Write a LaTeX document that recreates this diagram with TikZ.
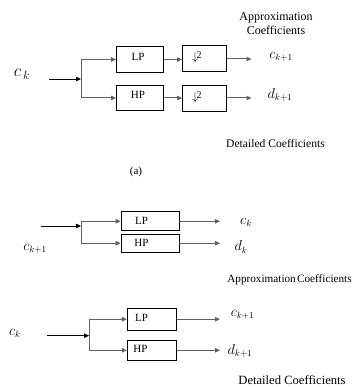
\documentclass[tikz,border=0pt]{standalone}
\usepackage{fontspec}
\setmainfont{Liberation Serif}
\usetikzlibrary{arrows.meta,calc}
\begin{document}
\begin{tikzpicture}[x=1pt,y=-1pt,
  blk/.style={draw=black, line width=0.9pt, minimum width=#1, inner sep=0pt, fill=white},
  blk/.default=47pt,
  lbl/.style={font=\fontsize{11}{13}\selectfont, inner sep=0pt},
  conn/.style={draw=black!62, line width=1pt, -{Triangle[length=5pt,width=4.5pt]}},
  link/.style={draw=black!62, line width=1pt},
  feed/.style={draw=black, line width=0.8pt, -{Triangle[length=5pt,width=4.5pt]}},
  sym/.style={inner sep=0pt, font=\fontsize{13.5}{15}\selectfont},
  captxt/.style={inner sep=0pt, align=center}
]
\useasboundingbox (0,0) rectangle (355,387);

% ---------- analysis stage with down-sampling ----------
\node[sym, font=\fontsize{17}{19}\selectfont] (x1) at (22,74) {$c_{\,k}$};
\coordinate (i1) at (49,79);
\coordinate (s1) at (81,79);
\node[blk, minimum height=26pt] (lp1) at (140,59.5) {};
\node[lbl] (lp1t) at (138,56.5) {LP};
\node[blk, minimum height=25pt] (hp1) at (140,98) {};
\node[lbl] (hp1t) at (138,95) {HP};
\node[blk=44pt, minimum height=25.5pt] (d1) at (204.5,58.5) {};
\node[blk=44pt, minimum height=25.5pt] (d2) at (204.5,98.3) {};
% down-sampling symbol: arrow with the factor 2 over it
\node[inner sep=0pt, font=\fontsize{12}{14}\selectfont] (d1a) at (195,57.5) {$\downarrow$};
\node[inner sep=0pt, font=\fontsize{10}{12}\selectfont] (d1b) at (199,55.5) {2};
\node[inner sep=0pt, font=\fontsize{12}{14}\selectfont] (d2a) at (195,97.3) {$\downarrow$};
\node[inner sep=0pt, font=\fontsize{10}{12}\selectfont] (d2b) at (199,95.3) {2};
\coordinate (o1) at (251.5,59);
\coordinate (o2) at (251.5,98);
\node[sym] (y1) at (281,57) {$c_{k+1}$};
\node[sym] (y2) at (280,94.5) {$d_{k+1}$};
\node[captxt, font=\fontsize{12}{14}\selectfont] (ac1) at (276,24) {Approximation\\Coefficients};
\node[captxt, font=\fontsize{11.6}{13}\selectfont] (dc1) at (275.5,143) {Detailed Coefficients};
\node[captxt, font=\fontsize{11}{12}\selectfont] (sa) at (136,172) {(a)};

\draw[feed] (i1) -- (s1);
\draw[link] (s1 |- lp1) -- (s1 |- hp1);
\draw[conn] (s1 |- lp1) -- (lp1.west);
\draw[conn] (s1 |- hp1) -- (hp1.west);
\draw[conn] (lp1.east) -- (lp1.east -| d1.west);
\draw[conn] (hp1.east) -- (hp1.east -| d2.west);
\draw[conn] (d1.east |- o1) -- (o1);
\draw[conn] (d2.east |- o2) -- (o2);

% ---------- synthesis-type split ----------
\node[sym] (x2) at (35,249) {$c_{k+1}$};
\coordinate (i2) at (41,226);
\coordinate (s2) at (81,226);
\node[blk=58pt, minimum height=19pt] (lp2) at (150,221.3) {};
\node[lbl] (lp2t) at (141.5,220.5) {LP};
\node[blk=58pt, minimum height=18.5pt] (hp2) at (150,243.2) {};
\node[lbl] (hp2t) at (141.5,242.5) {HP};
\coordinate (o3) at (220,221.3);
\coordinate (o4) at (220,243.2);
\node[sym] (y3) at (246,222) {$c_k$};
\node[sym] (y4) at (241,247) {$d_k$};
\node[captxt, font=\fontsize{11.2}{12}\selectfont] (ac2) at (289.5,280) {Approximation\kern-1.5pt\ Coefficients};

\draw[feed] (i2) -- (s2);
\draw[link] (s2 |- lp2) -- (s2 |- hp2);
\draw[conn] (s2 |- lp2) -- (lp2.west);
\draw[conn] (s2 |- hp2) -- (hp2.west);
\draw[conn] (lp2.east) -- (o3);
\draw[conn] (hp2.east) -- (o4);

% ---------- analysis stage without down-sampling ----------
\node[sym] (x3) at (15,333) {$c_k$};
\coordinate (i3) at (47,335.7);
\coordinate (s3) at (89,335.7);
\node[blk=49.4pt, minimum height=21.7pt] (lp3) at (152,319.2) {};
\node[lbl] (lp3t) at (141.5,318) {LP};
\node[blk=49.4pt, minimum height=20.7pt] (hp3) at (152,350.3) {};
\node[lbl] (hp3t) at (140.5,349) {HP};
\coordinate (o5) at (220,319.2);
\coordinate (o6) at (220,350.3);
\node[sym] (y5) at (242.5,315) {$c_{k+1}$};
\node[sym] (y6) at (240,351) {$d_{k+1}$};
\node[captxt, font=\fontsize{12.6}{14}\selectfont] (dc2) at (292,380.5) {Detailed Coefficients};

\draw[feed] (i3) -- (s3);
\draw[link] (s3 |- lp3) -- (s3 |- hp3);
\draw[conn] (s3 |- lp3) -- (lp3.west);
\draw[conn] (s3 |- hp3) -- (hp3.west);
\draw[conn] (lp3.east) -- (o5);
\draw[conn] (hp3.east) -- (o6);
\end{tikzpicture}
\end{document}
